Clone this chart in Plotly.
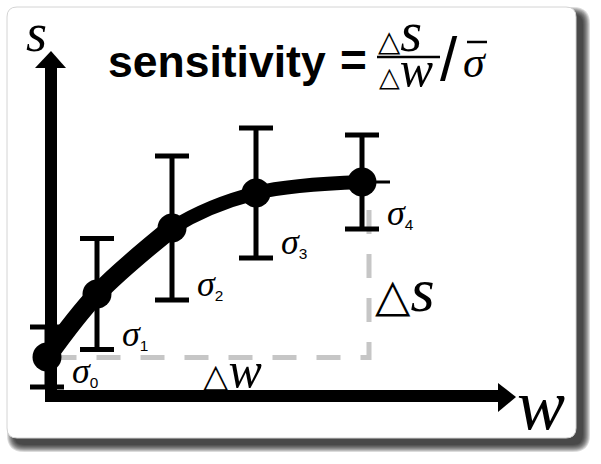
import plotly.graph_objects as go

# ---------------- data ----------------
w_vals = [-0.4, 4.6, 12.1, 20.5, 31.1]        # w positions of the measured points
s_vals = [3.9, 10.2, 16.8, 20.3, 21.4]         # s values of the points
sigma_vals = [3.0, 5.55, 7.2, 6.5, 4.7]        # sigma (half height of error bars)
sigma_idx = ["0", "1", "2", "3", "4"]          # subscripts of sigma labels
tail_w = [31.1, 33.9]                          # tapered tail of the curve
tail_s = [21.4, 21.4]
guide_w = [31.8, 31.8, -0.4]                   # dashed delta-guide
guide_s = [18.6, 3.85, 3.85]

# ---------------- geometry helpers (pixel -> axis units) ----------------
W, H = 601, 464
OX, OY, K = 51, 396, 10.0


def X(px):
    return (px - OX) / K


def Y(py):
    return (OY - py) / K


def rrect(x0, y0, x1, y1, r):
    return (f"M {X(x0 + r)},{Y(y0)} L {X(x1 - r)},{Y(y0)} Q {X(x1)},{Y(y0)} {X(x1)},{Y(y0 + r)} "
            f"L {X(x1)},{Y(y1 - r)} Q {X(x1)},{Y(y1)} {X(x1 - r)},{Y(y1)} "
            f"L {X(x0 + r)},{Y(y1)} Q {X(x0)},{Y(y1)} {X(x0)},{Y(y1 - r)} "
            f"L {X(x0)},{Y(y0 + r)} Q {X(x0)},{Y(y0)} {X(x0 + r)},{Y(y0)} Z")


SERIF = "Liberation Serif, Times New Roman, serif"
SANS = "Liberation Sans, Arial, sans-serif"
TITLE = "Liberation Sans, Arial, sans-serif"
TRI = "DejaVu Sans"

fig = go.Figure()

# dashed guide
fig.add_trace(go.Scatter(x=guide_w, y=guide_s, mode="lines",
                         line=dict(color="#c6c6c6", width=5, dash="24px,20px"),
                         hoverinfo="skip"))
# curve (thin part through all points, thick part through first points)
fig.add_trace(go.Scatter(x=w_vals, y=s_vals, mode="lines",
                         line=dict(color="black", width=14, shape="spline"), hoverinfo="skip"))
fig.add_trace(go.Scatter(x=w_vals[:3], y=s_vals[:3], mode="lines",
                         line=dict(color="black", width=19, shape="spline"), hoverinfo="skip"))
fig.add_trace(go.Scatter(x=tail_w, y=tail_s, mode="lines",
                         line=dict(color="black", width=3), hoverinfo="skip"))
# points with error bars
fig.add_trace(go.Scatter(x=w_vals, y=s_vals, mode="markers",
                         marker=dict(color="black", size=29, line=dict(width=0)),
                         error_y=dict(type="data", array=sigma_vals, symmetric=True,
                                      color="black", thickness=5, width=17),
                         cliponaxis=False, hoverinfo="skip"))

shapes = []
# card shadow
for k in range(8):
    shapes.append(dict(type="path", path=rrect(14 - k, 14 - k, 583 + k, 445 + k, 10 + k),
                       fillcolor="rgba(0,0,0,0.14)", line=dict(width=0), layer="below"))
# card
shapes.append(dict(type="path", path=rrect(7, 7, 576, 438, 10), fillcolor="white",
                   line=dict(color="#d4d4d4", width=1), layer="below"))
# axes
shapes.append(dict(type="line", x0=X(51), y0=Y(402), x1=X(51), y1=Y(67),
                   line=dict(color="black", width=12), layer="below"))
shapes.append(dict(type="line", x0=X(45), y0=Y(396), x1=X(499), y1=Y(396),
                   line=dict(color="black", width=12), layer="below"))
shapes.append(dict(type="path", path=f"M {X(35)},{Y(68)} L {X(51)},{Y(51)} L {X(66)},{Y(68)} Z",
                   fillcolor="black", line=dict(width=0), layer="below"))
shapes.append(dict(type="path", path=f"M {X(498)},{Y(383)} L {X(516)},{Y(397)} L {X(498)},{Y(412)} Z",
                   fillcolor="black", line=dict(width=0), layer="below"))
# fraction bar and sigma overline
shapes.append(dict(type="line", x0=X(377), y0=Y(57), x1=X(440), y1=Y(57),
                   line=dict(color="black", width=2.5)))
shapes.append(dict(type="line", x0=X(467), y0=Y(42), x1=X(487), y1=Y(42),
                   line=dict(color="black", width=2.5)))

annotations = []


def ann(text, px, py, size, family, xanchor="left", yanchor="bottom", **kw):
    annotations.append(dict(text=text, x=X(px), y=Y(py), xref="x", yref="y",
                            showarrow=False, xanchor=xanchor, yanchor=yanchor,
                            font=dict(size=size, family=family, color="black"),
                            borderpad=0, borderwidth=0, **kw))


# title
ann("<b>sensitivity</b>", 108, 86, 44.5, TITLE)
ann("<b>=</b>", 340, 86, 46, TITLE)
ann(f"<span style='font-family:{TRI};font-size:29px'>△</span><i>s</i>", 400, 63, 56, SERIF,
    xanchor="center")
ann(f"<span style='font-family:{TRI};font-size:27px'>△</span><i>w</i>", 406, 97, 50, SERIF,
    xanchor="center")
ann("/", 440, 93, 62, SANS)
ann("<i>σ</i>", 463, 87, 44, SERIF)

# axis labels
ann("<i>s</i>", 26, 63, 54, SERIF)
ann("<i>w</i>", 517, 445, 72, SERIF)
ann(f"<span style='font-family:{TRI};font-size:46px'>△</span><i>s</i>", 375, 324, 62, SERIF)
ann(f"<span style='font-family:{TRI};font-size:33px'>△</span><i>w</i>", 203, 398, 50, SERIF)

# sigma labels bound to data
for wv, sv, sg, idx in zip(w_vals, s_vals, sigma_vals, sigma_idx):
    annotations.append(dict(
        text=f"<span style='font-family:{SERIF};font-size:36px'><i>σ</i></span><sub>{idx}</sub>",
        x=wv, y=sv - sg, xref="x", yref="y", showarrow=False,
        xanchor="left", yanchor="bottom", xshift=25, yshift=-4,
        font=dict(size=22, family=SANS, color="black"), borderpad=0, borderwidth=0))

fig.update_layout(
    width=W, height=H, margin=dict(l=0, r=0, t=0, b=0),
    paper_bgcolor="white", plot_bgcolor="rgba(0,0,0,0)",
    showlegend=False,
    xaxis=dict(range=[X(0), X(W)], visible=False, fixedrange=True),
    yaxis=dict(range=[Y(H), Y(0)], visible=False, fixedrange=True),
    shapes=shapes, annotations=annotations,
)

fig.write_html("out.html", config={"displayModeBar": False},
               post_script="document.body.style.margin='0px';document.body.style.overflow='hidden';")
